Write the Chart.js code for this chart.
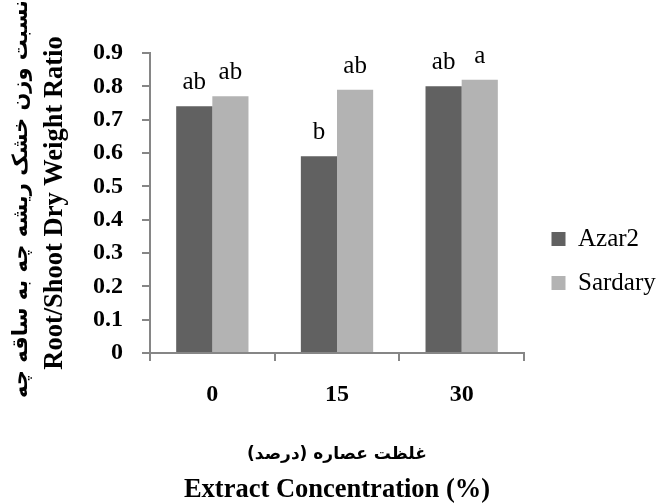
<!DOCTYPE html>
<html>
<head>
<meta charset="utf-8">
<script src="https://cdn.jsdelivr.net/npm/chart.js@4.4.1/dist/chart.umd.min.js"></script>
<style>
    body { margin: 0; background: #fff; }
</style>
</head>
<body>
<canvas id="rootShootChart" width="661" height="504"></canvas>
<script>
// chart data
var concentrations = ['0', '15', '30'];
var azar2Values = [0.74, 0.59, 0.80];
var sardaryValues = [0.77, 0.79, 0.82];
var azar2Letters = ['ab', 'b', 'ab'];
var sardaryLetters = ['ab', 'ab', 'a'];
var yTickLabels = ['0', '0.1', '0.2', '0.3', '0.4', '0.5', '0.6', '0.7', '0.8', '0.9'];

// axis titles (persian line is drawn by the plugin below, english by chart.js)
var xTitleFa = 'غلظت عصاره (درصد)';
var xTitleEn = 'Extract Concentration (%)';
var yTitleFa = 'نسبت وزن خشک ریشه چه به ساقه چه';
var yTitleEn = 'Root/Shoot Dry Weight Ratio';

var serif = "'Liberation Serif', 'DejaVu Sans'";
var axisGray = '#868686';

// draws the significance letters above each bar
var letterPlugin = {
    id: 'letters',
    afterDatasetsDraw: function (chart) {
        var ctx = chart.ctx;
        ctx.save();
        ctx.font = '25px ' + serif;
        ctx.fillStyle = '#000';
        ctx.textAlign = 'center';
        ctx.textBaseline = 'alphabetic';
        chart.data.datasets.forEach(function (ds, i) {
            chart.getDatasetMeta(i).data.forEach(function (bar, j) {
                ctx.fillText(ds.letters[j], bar.x, bar.y - 17);
            });
        });
        ctx.restore();
    }
};

// persian title lines, placed on the empty first line of each axis title
var persianTitlePlugin = {
    id: 'persianTitles',
    afterDraw: function (chart) {
        var ctx = chart.ctx;
        var xs = chart.scales.x;
        var ys = chart.scales.y;
        var area = chart.chartArea;
        ctx.save();
        ctx.fillStyle = '#000';
        ctx.textBaseline = 'middle';
        ctx.textAlign = 'center';
        ctx.direction = 'rtl';

        // x title, first line
        ctx.font = 'bold 17px "DejaVu Sans"';
        ctx.fillText(xTitleFa, (area.left + area.right) / 2, xs.bottom + 3.5 - 35 * 1.5);

        // y title, first line (rotated)
        ctx.translate(ys.left + 5.5 + 16.5, (area.top + area.bottom) / 2 - 4);
        ctx.rotate(-Math.PI / 2);
        ctx.font = 'bold 21px "DejaVu Sans"';
        ctx.fillText(yTitleFa, 0, 0);
        ctx.restore();
    }
};

const ctx = document.getElementById('rootShootChart');

const config = {
    type: 'bar',
    data: {
        labels: concentrations,
        datasets: [{
            label: 'Azar2',
            data: azar2Values,
            letters: azar2Letters,
            backgroundColor: '#616161',
            borderWidth: 0,
            categoryPercentage: 0.58,
            barPercentage: 1.0
        }, {
            label: 'Sardary',
            data: sardaryValues,
            letters: sardaryLetters,
            backgroundColor: '#b3b3b3',
            borderWidth: 0,
            categoryPercentage: 0.58,
            barPercentage: 1.0
        }]
    },
    options: {
        responsive: false,
        animation: false,
        devicePixelRatio: 1,
        layout: { padding: { top: 18, right: -4.75, left: 0, bottom: 0 } },
        plugins: {
            tooltip: { enabled: false },
            legend: {
                position: 'right',
                align: 'center',
                labels: {
                    boxWidth: 14,
                    boxHeight: 14,
                    padding: 19,
                    color: '#000',
                    font: { family: serif, size: 25 }
                }
            }
        },
        scales: {
            x: {
                offset: true,
                grid: { offset: true, drawOnChartArea: false, drawTicks: true, tickLength: 8, color: axisGray, lineWidth: 2 },
                border: { color: axisGray, width: 2 },
                ticks: { padding: 19, color: '#000', font: { family: serif, size: 24, weight: 'bold' } },
                title: {
                    display: true,
                    text: ['', xTitleEn],
                    color: '#000',
                    padding: { top: 9.7, bottom: -3.5 },
                    font: { family: serif, size: 26.5, weight: 'bold', lineHeight: '35px' }
                }
            },
            y: {
                min: 0,
                max: 0.9,
                ticks: {
                    stepSize: 0.1,
                    autoSkip: false,
                    padding: 19,
                    color: '#000',
                    font: { family: serif, size: 24, weight: 'bold' },
                    callback: function (v, i) { return yTickLabels[i]; }
                },
                grid: { drawOnChartArea: false, drawTicks: true, tickLength: 8, color: axisGray, lineWidth: 2 },
                border: { color: axisGray, width: 2 },
                title: {
                    display: true,
                    text: ['', yTitleEn],
                    color: '#000',
                    padding: { top: 5.5, bottom: 2.5 },
                    font: { family: serif, size: 26.5, weight: 'bold', lineHeight: '33px' }
                }
            },
            // spacer axes, hidden, they only reserve room around the plot
            yRight: {
                type: 'linear',
                position: 'right',
                display: false,
                afterFit: function (s) { s.width = 8.5; }
            },
            xTop: {
                type: 'category',
                position: 'top',
                display: false,
                afterFit: function (s) { s.height = 35; }
            }
        }
    },
    plugins: [letterPlugin, persianTitlePlugin]
};

// draw chart
var rootShootChart = new Chart(ctx, config);
</script>
</body>
</html>
